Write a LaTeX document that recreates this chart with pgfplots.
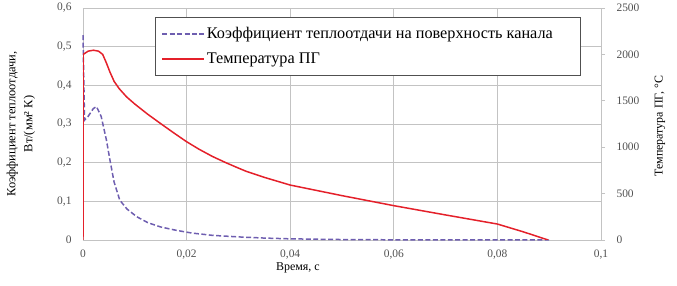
\documentclass[border=0pt]{standalone}
\usepackage{pgfplots}
\pgfplotsset{compat=1.18}
\usepackage{fontspec}
\setmainfont{Liberation Serif}
\definecolor{hcol}{RGB}{110,94,176}
\definecolor{tcol}{RGB}{228,32,42}
\definecolor{gridc}{RGB}{195,195,195}
\definecolor{tickc}{RGB}{80,80,80}
\begin{document}
\begin{tikzpicture}[x=1bp,y=1bp]
\path[use as bounding box] (-83bp,-46bp) rectangle (594bp,240bp);
\pgfplotsset{every axis/.append style={
  scale only axis, width=518bp, height=232bp,
  /pgf/number format/assume math mode=true,
  /pgf/number format/use comma,
  /pgf/number format/1000 sep={},
  tick label style={font=\fontsize{11.5}{13}\selectfont, color=tickc},
  label style={font=\fontsize{12}{14}\selectfont},
  axis line style={draw=gridc, line width=0.8pt},
}}
\pgfplotsset{longlegend/.style={legend image code/.code={\draw[##1] (0bp,0bp) -- (42bp,0bp);}}}
\begin{axis}[
  at={(0,0)}, anchor=origin,
  xmin=0, xmax=0.1, ymin=0, ymax=0.6,
  xtick={0,0.02,0.04,0.06,0.08,0.1},
  ytick={0,0.1,0.2,0.3,0.4,0.5,0.6},
  scaled ticks=false,
  tick style={draw=none},
  xticklabel style={/pgf/number format/fixed, /pgf/number format/precision=2, yshift=-6bp},
  yticklabel style={/pgf/number format/fixed, /pgf/number format/precision=1, xshift=-8bp},
  axis y line*=left, axis x line*=bottom,
  grid=major, grid style={draw=gridc, line width=0.8pt},
  xlabel={Время, с},
  xlabel style={at={(axis description cs:0.415,0)}, anchor=center, yshift=-28bp},
  ylabel={Коэффициент теплоотдачи,\\ Вт/(мм² К)},
  ylabel style={align=center, at={(axis description cs:-0.12,0.5)}, anchor=center, font=\fontsize{12.5}{17}\selectfont},
  clip=false,
]
\addplot[hcol, line width=1.5pt, dash pattern=on 5pt off 2.5pt] coordinates {
(0,0.53)(0.0003,0.31)(0.001,0.32)(0.002,0.34)(0.0026,0.345)(0.0035,0.32)(0.0045,0.26)
(0.0052,0.207)(0.006,0.15)(0.0071,0.103)(0.0085,0.08)(0.0104,0.06)(0.0125,0.045)
(0.0149,0.034)(0.018,0.025)(0.021,0.018)(0.025,0.012)(0.03,0.008)(0.035,0.005)
(0.04,0.003)(0.05,0.0012)(0.06,0.0005)(0.07,0.0002)(0.09,0)
};
\end{axis}
\begin{axis}[
  at={(0,0)}, anchor=origin,
  xmin=0, xmax=0.1, ymin=0, ymax=2500,
  ytick={0,500,1000,1500,2000,2500},
  axis y line*=right, axis x line=none,
  scaled ticks=false,
  ytick style={draw=gridc, line width=0.8pt},
  major tick length=4bp, tick align=outside,
  yticklabel style={xshift=8bp},
  ylabel={Температура ПГ, °C},
  ylabel style={at={(axis description cs:1.114,0.49)}, anchor=center},
  legend style={at={(0.139,0.961)}, anchor=north west, draw=tickc, fill=white,
    line width=0.8pt,
    font=\fontsize{16.3}{18}\selectfont, inner xsep=6pt, inner ysep=8pt, row sep=9pt,
    cells={anchor=west}},
  legend cell align=left,
]
\addlegendimage{hcol, line width=1.5pt, dash pattern=on 5pt off 2.5pt, longlegend}
\addlegendentry{Коэффициент теплоотдачи на поверхность канала\hspace*{20bp}}
\addplot[tcol, line width=1.5pt, longlegend] coordinates {
(0,0)(0.00003,2000)(0.001,2035)(0.002,2045)(0.003,2035)(0.0038,2000)(0.0045,1910)
(0.0052,1810)(0.006,1710)(0.007,1630)(0.0084,1543)(0.01,1465)(0.0125,1355)
(0.0149,1258)(0.0175,1155)(0.02,1059)(0.0225,975)(0.025,900)(0.0275,835)(0.03,775)
(0.0316,738)(0.035,675)(0.04,592)(0.05,478)(0.06,370)(0.07,270)(0.08,172)(0.085,88)(0.0898,0)
};
\addlegendentry{Температура ПГ}
\end{axis}
\end{tikzpicture}
\end{document}
